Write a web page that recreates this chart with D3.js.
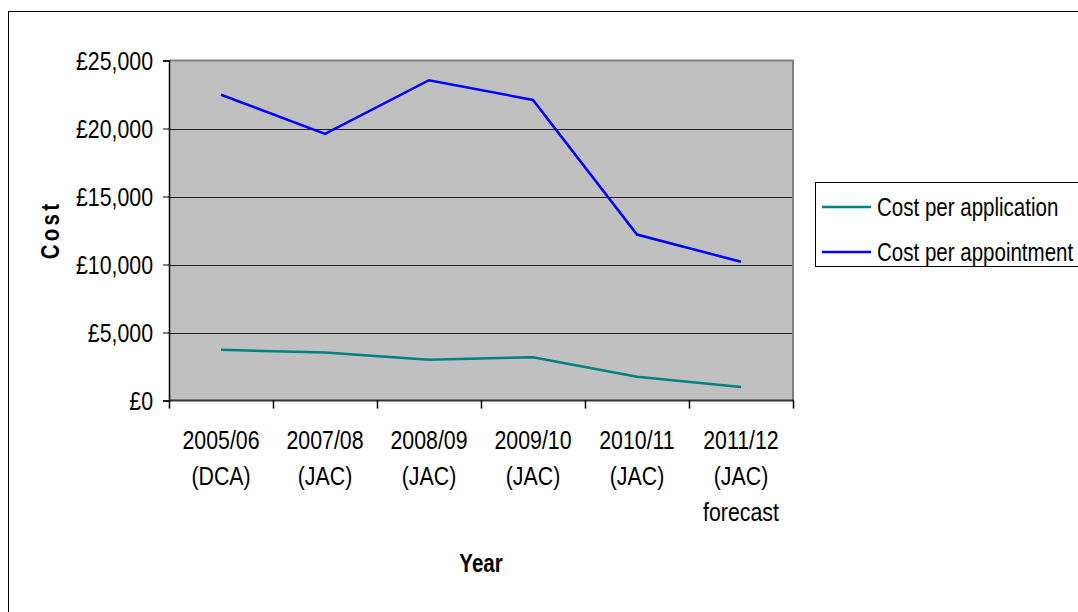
<!DOCTYPE html>
<html>
<head>
<meta charset="utf-8">
<script src="https://cdn.jsdelivr.net/npm/d3@7"></script>
<style>
  html, body { margin: 0; padding: 0; background: #fff; }
  svg { display: block; }
  text { font-family: "Liberation Sans", Arial, sans-serif; fill: #000; }
</style>
</head>
<body>
<svg id="chart" width="1078" height="612"></svg>
<script>
// Judicial appointments: cost per application and per appointment
const categories = [
  ["2005/06", "(DCA)"],
  ["2007/08", "(JAC)"],
  ["2008/09", "(JAC)"],
  ["2009/10", "(JAC)"],
  ["2010/11", "(JAC)"],
  ["2011/12", "(JAC)", "forecast"]
];
const costPerApplication = [3730, 3530, 2990, 3180, 1740, 1000];
const costPerAppointment = [22480, 19600, 23550, 22100, 12200, 10200];
const yTicks = [0, 5000, 10000, 15000, 20000, 25000];
const seriesNames = ["Cost per application", "Cost per appointment"];
const seriesColors = ["#008080", "#0000ff"];

const svg = d3.select("#chart");
const SX = 0.82;   // horizontal condensing of the label font
const FS = 26;

// outer chart frame
svg.append("rect")
  .attr("x", 8.5).attr("y", 11.5)
  .attr("width", 1200).attr("height", 800)
  .attr("fill", "#fff").attr("stroke", "#000").attr("stroke-width", 1);

const plot = { left: 169, right: 793, top: 60.5, bottom: 400.5 };

const x = d3.scaleBand()
  .domain(categories.map((d, i) => i))
  .range([plot.left, plot.right])
  .paddingInner(0).paddingOuter(0);

const y = d3.scaleLinear()
  .domain([0, 25000])
  .range([plot.bottom, plot.top]);

// plot area background
svg.append("rect")
  .attr("x", plot.left).attr("y", plot.top)
  .attr("width", plot.right - plot.left).attr("height", plot.bottom - plot.top)
  .attr("fill", "#c0c0c0");

// horizontal gridlines
svg.append("g")
  .selectAll("line")
  .data(yTicks.filter(v => v > 0 && v < 25000))
  .join("line")
  .attr("x1", plot.left).attr("x2", plot.right)
  .attr("y1", d => Math.round(y(d)) + 0.5).attr("y2", d => Math.round(y(d)) + 0.5)
  .attr("stroke", "#222").attr("stroke-width", 1);

// plot area border (top and right, grey)
svg.append("path")
  .attr("d", `M${plot.left},${plot.top}H${plot.right}V${plot.bottom}`)
  .attr("fill", "none").attr("stroke", "#808080").attr("stroke-width", 2);

// helper for condensed text
function condensed(g, px, py, lines, opts) {
  const t = g.append("text")
    .attr("transform", `translate(${px},${py}) scale(${opts.sx || SX},1)`)
    .attr("font-size", opts.size || FS)
    .attr("font-weight", opts.weight || "normal")
    .attr("text-anchor", opts.anchor || "middle");
  lines.forEach((l, i) => {
    t.append("tspan").attr("x", 0).attr("dy", i === 0 ? 0 : opts.lh || 36).text(l);
  });
  return t;
}

// y axis
const yAxis = d3.axisLeft(y).tickValues(yTicks).tickSize(6).tickFormat(() => "");
const yg = svg.append("g").attr("transform", `translate(${plot.left},0)`).call(yAxis);
yg.select(".domain").attr("stroke", "#000").attr("stroke-width", 1.5);
yg.selectAll(".tick line").attr("stroke", "#000");
const fmt = d3.format(",");
yTicks.forEach(v => {
  condensed(svg, 153, y(v) + 9, ["£" + fmt(v)], { anchor: "end" });
});

// x axis
const xAxis = d3.axisBottom(x).tickSize(0).tickFormat(() => "");
const xg = svg.append("g").attr("transform", `translate(0,${plot.bottom})`).call(xAxis);
xg.select(".domain").remove();
svg.append("line")
  .attr("x1", plot.left).attr("x2", plot.right + 1)
  .attr("y1", plot.bottom).attr("y2", plot.bottom)
  .attr("stroke", "#333").attr("stroke-width", 2);
const boundaries = categories.map((d, i) => x(i)).concat([x(categories.length - 1) + x.bandwidth()]);
svg.append("g").selectAll("line")
  .data(boundaries)
  .join("line")
  .attr("x1", d => Math.round(d) + 0.5).attr("x2", d => Math.round(d) + 0.5)
  .attr("y1", plot.bottom).attr("y2", plot.bottom + 8)
  .attr("stroke", "#000").attr("stroke-width", 1.5);
categories.forEach((c, i) => {
  condensed(svg, x(i) + x.bandwidth() / 2, 449, c, { lh: 36 });
});

// axis titles
condensed(svg, 481, 572, ["Year"], { weight: "bold", size: 25 });
svg.append("text")
  .attr("transform", `translate(59,230) rotate(-90) scale(${SX},1)`)
  .attr("font-size", 25).attr("font-weight", "bold")
  .attr("letter-spacing", 4)
  .attr("text-anchor", "middle")
  .text("Cost");

// series lines
const line = d3.line()
  .x((d, i) => x(i) + x.bandwidth() / 2)
  .y(d => y(d));
[costPerApplication, costPerAppointment].forEach((s, k) => {
  svg.append("path")
    .datum(s)
    .attr("d", line)
    .attr("fill", "none")
    .attr("stroke", seriesColors[k])
    .attr("stroke-width", 2.5)
    .attr("stroke-linejoin", "miter");
});

// legend
const lg = svg.append("g");
lg.append("rect")
  .attr("x", 815.5).attr("y", 182.5)
  .attr("width", 300).attr("height", 84)
  .attr("fill", "#fff").attr("stroke", "#000").attr("stroke-width", 1);
seriesNames.forEach((n, k) => {
  const ly = 207 + k * 45;
  lg.append("line")
    .attr("x1", 822).attr("x2", 871)
    .attr("y1", ly).attr("y2", ly)
    .attr("stroke", seriesColors[k]).attr("stroke-width", 2.5);
  condensed(lg, 877, ly + 9, [n], { anchor: "start", sx: 0.79 });
});
</script>
</body>
</html>
